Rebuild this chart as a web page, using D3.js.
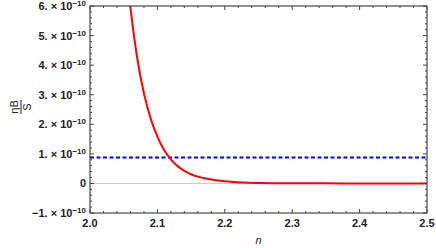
<!DOCTYPE html>
<html>
<head>
<meta charset="utf-8">
<script src="https://cdn.jsdelivr.net/npm/d3@7"></script>
<style>
  body { margin: 0; background: #fff; }
  text { font-family: "Liberation Sans", Arial, sans-serif; }
</style>
</head>
<body>
<div id="chart"></div>
<script>
// curve (n, value in units of 1e-10)
var nVals = [2.05, 2.06, 2.07, 2.08, 2.09, 2.10, 2.11, 2.12, 2.13, 2.14, 2.15, 2.16, 2.17, 2.18, 2.19, 2.20, 2.22, 2.25, 2.30, 2.35, 2.40, 2.45, 2.50]
var etaVals = [8.2, 5.95, 4.25, 3.05, 2.2, 1.58, 1.13, 0.81, 0.585, 0.425, 0.31, 0.23, 0.172, 0.13, 0.098, 0.075, 0.043, 0.018, 0.006, 0.0025, 0.0012, 0.0006, 0.0003]
var blueLevel = 0.88
var xTicks = [2.0, 2.1, 2.2, 2.3, 2.4, 2.5]
var yTicks = [-1, 0, 1, 2, 3, 4, 5, 6]

var width = 436,
    height = 248
var margin = {left: 90, right: 9, top: 6, bottom: 35}

var svg = d3.select("#chart")
  .append("svg")
    .attr("width", width)
    .attr("height", height)

var x = d3.scaleLinear().domain([2.0, 2.5]).range([margin.left, width - margin.right])
var y = d3.scaleLinear().domain([-1, 6]).range([height - margin.bottom, margin.top])

svg.append("clipPath").attr("id", "clip")
  .append("rect")
    .attr("x", x(2.0)).attr("y", y(6))
    .attr("width", x(2.5) - x(2.0)).attr("height", y(-1) - y(6))

// zero line
svg.append("line")
  .attr("x1", x(2.0)).attr("x2", x(2.5))
  .attr("y1", y(0)).attr("y2", y(0))
  .attr("stroke", "#c8c8c8").attr("stroke-width", 1)

// blue dashed level
svg.append("line")
  .attr("x1", x(2.0)).attr("x2", x(2.5))
  .attr("y1", y(blueLevel)).attr("y2", y(blueLevel))
  .attr("stroke", "#0000ff").attr("stroke-width", 2)
  .attr("stroke-dasharray", "4,2.5")

// red curve
var pts = nVals.map(function(n, i) { return [n, etaVals[i]] })
var line = d3.line()
  .x(function(d) { return x(d[0]) })
  .y(function(d) { return y(d[1]) })
  .curve(d3.curveMonotoneX)

svg.append("path")
  .attr("d", line(pts))
  .attr("clip-path", "url(#clip)")
  .attr("fill", "none")
  .attr("stroke", "#ff0000")
  .attr("stroke-width", 2)

// frame
var x0 = x(2.0), x1 = x(2.5), y0 = y(-1), y1 = y(6)
svg.append("rect")
  .attr("x", x0).attr("y", y1)
  .attr("width", x1 - x0).attr("height", y0 - y1)
  .attr("fill", "none").attr("stroke", "#222").attr("stroke-width", 1)

// ticks on all four sides, pointing inward
var ticks = svg.append("g").attr("stroke", "#444").attr("stroke-width", 1)
d3.range(0, 26).forEach(function(i) {
  var n = 2.0 + i * 0.02
  var len = (i % 5 == 0) ? 4 : 2
  ticks.append("line").attr("x1", x(n)).attr("x2", x(n)).attr("y1", y0).attr("y2", y0 - len)
  ticks.append("line").attr("x1", x(n)).attr("x2", x(n)).attr("y1", y1).attr("y2", y1 + len)
})
d3.range(0, 36).forEach(function(i) {
  var v = -1 + i * 0.2
  var len = (i % 5 == 0) ? 4 : 2
  ticks.append("line").attr("y1", y(v)).attr("y2", y(v)).attr("x1", x0).attr("x2", x0 + len)
  ticks.append("line").attr("y1", y(v)).attr("y2", y(v)).attr("x1", x1).attr("x2", x1 - len)
})

// x tick labels
svg.selectAll(".xl")
  .data(xTicks)
  .enter()
  .append("text")
    .attr("x", function(d) { return x(d) })
    .attr("y", y0 + 14)
    .attr("text-anchor", "middle")
    .style("font-size", "11px")
    .style("font-weight", "bold")
    .attr("fill", "#222")
    .text(function(d) { return d.toFixed(1) })

// y tick labels
yTicks.forEach(function(v) {
  var t = svg.append("text")
    .attr("x", x0 - 4)
    .attr("y", y(v) + 4)
    .attr("text-anchor", "end")
    .style("font-size", "11px")
    .style("font-weight", "bold")
    .attr("fill", "#222")
  if (v == 0) {
    t.text("0")
  } else {
    t.append("tspan").text((v < 0 ? "\u2212" : "") + Math.abs(v) + ". \u00d7 10")
    t.append("tspan").attr("dy", -4).style("font-size", "8px").text("\u221210")
  }
})

// axis labels
svg.append("text")
  .attr("x", (x0 + x1) / 2)
  .attr("y", 244)
  .attr("text-anchor", "middle")
  .style("font-size", "11px")
  .style("font-style", "italic")
  .attr("fill", "#222")
  .text("n")

var yl = svg.append("g").attr("transform", "translate(21,107) rotate(-90)")
yl.append("text").attr("x", 0).attr("y", -3)
  .attr("text-anchor", "middle").style("font-size", "11px").attr("fill", "#222")
  .text("\u03b7B")
yl.append("line").attr("x1", -7).attr("x2", 7).attr("y1", 0).attr("y2", 0)
  .attr("stroke", "#222").attr("stroke-width", 1)
yl.append("text").attr("x", 0).attr("y", 10)
  .attr("text-anchor", "middle").style("font-size", "11px").attr("fill", "#222")
  .text("S")
</script>
</body>
</html>
